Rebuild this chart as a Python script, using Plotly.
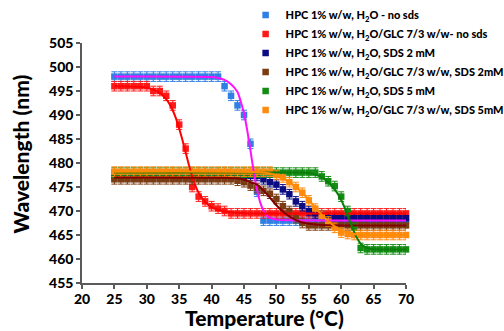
import plotly.graph_objects as go

# Temperatures (°C)
temp = [25, 26, 27, 28, 29, 30, 31, 32, 33, 34, 35, 36, 37, 38, 39, 40, 41, 42, 43, 44, 45, 46, 47,
        48, 49, 50, 51, 52, 53, 54, 55, 56, 57, 58, 59, 60, 61, 62, 63, 64, 65, 66, 67, 68, 69, 70]

# Wavelength data (nm)
h2o_nosds = [498, 498, 498, 498, 498, 498, 498, 498, 498, 498, 498, 498, 498, 498, 498, 498, 498,
             496, 494, 492, 490, 484, 474, 468,
             468, 468, 468, 468, 468, 468, 468, 468, 468, 468, 468, 468, 468, 468, 468, 468, 468, 468, 468, 468, 468, 468]
glc_nosds = [496, 496, 496, 496, 496, 496, 495, 495, 494, 492, 488, 483, 475, 473, 472, 471, 470.5, 470,
             469.5, 469.5, 469.5, 469.5, 469.5, 469.5, 469.5, 469.5, 469.5, 469.5, 469.5, 469.5, 469.5, 469.5,
             469.5, 469.5, 469.5, 469.5, 469.5, 469.5, 469.5, 469.5, 469.5, 469.5, 469.5, 469.5, 469.5, 469.5]
h2o_sds2 = [477.3, 477.3, 477.3, 477.3, 477.3, 477.3, 477.3, 477.3, 477.3, 477.3, 477.3, 477.3, 477.3, 477.3,
            477.3, 477.3, 477.3, 477.3, 477.3, 477.3, 477.3, 477.3, 477.3,
            476.6, 476, 475.5, 474.5, 473.5, 472, 471, 470, 469.5, 469,
            468.5, 468.5, 468.5, 468.5, 468.5, 468.5, 468.5, 468.5, 468.5, 468.5, 468.5, 468.5, 468.5]
glc_sds2 = [476.6, 476.6, 476.6, 476.6, 476.6, 476.6, 476.6, 476.6, 476.6, 476.6, 476.6, 476.6, 476.6, 476.6,
            476.6, 476.6, 476.6, 476.6, 476.6,
            476.3, 476, 475.3, 474.8, 474.2, 473.6, 472.5, 471, 470, 468.5, 467.5,
            467, 467, 467, 467, 467, 467, 467, 467, 467, 467, 467, 467, 467, 467, 467, 467]
h2o_sds5 = [478, 478, 478, 478, 478, 478, 478, 478, 478, 478, 478, 478, 478, 478, 478, 478, 478, 478, 478, 478,
            478, 478, 478, 478, 478, 478, 478, 478, 478, 478, 478, 478,
            477.2, 476.2, 475.2, 473, 470, 466.5, 462.3,
            462, 462, 462, 462, 462, 462, 462]
glc_sds5 = [478.2, 478.2, 478.2, 478.2, 478.2, 478.2, 478.2, 478.2, 478.2, 478.2, 478.2, 478.2, 478.2, 478.2,
            478.2, 478.2, 478.2, 478.2, 478.2, 478.2, 478.2, 478.2, 478.2, 478.2, 478.2,
            477.5, 477, 476, 475, 473.8, 472.2, 470.5, 469, 467.8, 466.5, 465.5, 465.2,
            465, 465, 465, 465, 465, 465, 465, 465, 465]

# Fitted curves
fit_h2o_t = [25, 40, 41, 42, 43, 44, 44.5, 45, 45.5, 46, 46.5, 47, 47.5, 48, 48.5, 49, 50, 52, 70]
fit_h2o_w = [498, 497.9, 497.7, 497.3, 496.4, 494.8, 492.8, 490.3, 486.8, 482.6, 478.2, 474.5, 471.8, 470.1,
             469.1, 468.6, 468.2, 468.05, 468]
fit_glc_t = [25, 29, 30, 31, 32, 33, 34, 34.5, 35, 35.5, 36, 36.5, 37, 37.5, 38, 39, 40, 42, 45, 70]
fit_glc_w = [496, 495.9, 495.7, 495.3, 494.6, 493.3, 491, 489.3, 487.2, 484.8, 482.2, 479.6, 477.2, 475.3,
             473.8, 471.9, 470.8, 469.9, 469.55, 469.5]
fit_glc2_t = [25, 42, 44, 45, 46, 47, 48, 49, 50, 51, 52, 53, 54, 56, 58, 70]
fit_glc2_w = [477, 476.95, 476.8, 476.5, 476, 475.5, 474.3, 472.8, 471.2, 469.9, 468.9, 468.1, 467.6, 467.2,
              467.05, 467]
fit_h2o5_t = [25, 54, 55, 56, 57, 58, 59, 60, 60.5, 61, 61.5, 62, 62.5, 63, 64, 65, 70]
fit_h2o5_w = [478, 478, 477.9, 477.6, 477, 476, 474.5, 472.3, 470.8, 469.1, 467.3, 465.6, 464.2, 463.2,
              462.3, 462.05, 462]
fit_glc5_t = [25, 47, 49, 50, 51, 52, 53, 54, 55, 56, 57, 58, 59, 60, 61, 62, 64, 70]
fit_glc5_w = [478.2, 478.1, 477.8, 477.4, 476.8, 476, 475, 473.8, 472.3, 470.7, 469.2, 467.9, 466.8, 466,
              465.5, 465.2, 465.05, 465]

names = ["HPC 1% w/w, H<sub>2</sub>O - no sds",
         "HPC 1% w/w, H<sub>2</sub>O/GLC 7/3 w/w- no sds",
         "HPC 1% w/w, H<sub>2</sub>O, SDS 2 mM",
         "HPC 1% w/w, H<sub>2</sub>O/GLC 7/3 w/w, SDS 2mM",
         "HPC 1% w/w, H<sub>2</sub>O, SDS 5 mM",
         "HPC 1% w/w, H<sub>2</sub>O/GLC 7/3 w/w, SDS 5mM"]
series = [h2o_nosds, glc_nosds, h2o_sds2, glc_sds2, h2o_sds5, glc_sds5]
colors = ["#2f7fe4", "#ff1a1a", "#0c0c82", "#7a3c12", "#138c13", "#ff8a10"]

FONT = "Lato"
fig = go.Figure()

for name, ys, c in zip(names, series, colors):
    fig.add_trace(go.Scatter(
        x=temp, y=ys, mode="markers", name=name,
        marker=dict(symbol="square", size=6.5, color=c, line=dict(width=0)),
        error_y=dict(type="constant", value=1, color=c, thickness=1, width=3),
        cliponaxis=False))

fits = [(fit_h2o_t, fit_h2o_w, "#ff10ff"),
        (fit_glc_t, fit_glc_w, "#ff0000"),
        (fit_glc2_t, fit_glc2_w, "#800000"),
        (fit_h2o5_t, fit_h2o5_w, "#0a7d0a"),
        (fit_glc5_t, fit_glc5_w, "#ff8c00")]
for tx, wy, c in fits:
    fig.add_trace(go.Scatter(x=tx, y=wy, mode="lines", showlegend=False,
                             line=dict(color=c, width=2, shape="spline", smoothing=0.6),
                             hoverinfo="skip", cliponaxis=False))

axis_common = dict(showline=True, linecolor="#5a5a5a", linewidth=1.5, ticks="outside", ticklen=4,
                   tickwidth=1.5, tickcolor="#5a5a5a", showgrid=False, zeroline=False,
                   tickfont=dict(family=FONT, size=14, color="black", weight=900))

fig.update_layout(
    width=504, height=331,
    margin=dict(l=82, r=98, t=43, b=48, autoexpand=False),
    paper_bgcolor="white", plot_bgcolor="white",
    font=dict(family=FONT, color="black"),
    xaxis=dict(range=[20, 70], dtick=5, tick0=20, ticklabelstandoff=-2, **axis_common),
    yaxis=dict(range=[455, 505], dtick=5, tick0=455, **axis_common),
    legend=dict(x=0.505, y=1.177, xanchor="left", yanchor="top", bgcolor="rgba(0,0,0,0)",
                font=dict(family=FONT, size=11, color="black", weight=900),
                tracegroupgap=0, itemwidth=30),
    annotations=[
        dict(text="Temperature (°C)", xref="paper", yref="paper", x=0.562, y=-0.142,
             xanchor="center", yanchor="middle", showarrow=False,
             font=dict(family=FONT, size=21, color="black", weight=900)),
        dict(text="Wavelength (nm)", xref="paper", yref="paper", x=-0.19, y=0.5375,
             xanchor="center", yanchor="middle", showarrow=False, textangle=-90,
             font=dict(family=FONT, size=21, color="black", weight=900)),
    ],
)

fig.write_html("out.html")
